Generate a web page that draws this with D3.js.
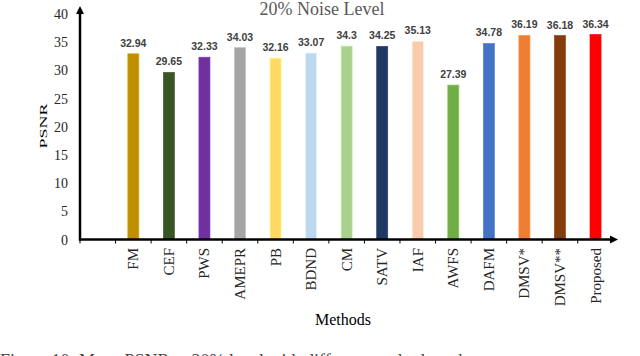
<!DOCTYPE html>
<html>
<head>
<meta charset="utf-8">
<script src="https://cdn.jsdelivr.net/npm/d3@7"></script>
<style>
  html, body { margin: 0; padding: 0; background: #fff; overflow: hidden; }
</style>
</head>
<body>
<div id="chart-area"></div>
<script>
const methods = ["FM", "CEF", "PWS", "AMEPR", "PB", "BDND", "CM", "SATV", "IAF", "AWFS", "DAFM", "DMSV*", "DMSV**", "Proposed"];
const psnr = [32.94, 29.65, 32.33, 34.03, 32.16, 33.07, 34.3, 34.25, 35.13, 27.39, 34.78, 36.19, 36.18, 36.34];
const barColors = ["#BF8F00", "#375623", "#7030A0", "#A5A5A5", "#FFD966", "#BDD7EE", "#A9D18E",
                   "#203864", "#F8CBAD", "#70AD47", "#4472C4", "#ED7D31", "#843C0C", "#FF0000"];
const yTicks = [0, 5, 10, 15, 20, 25, 30, 35, 40];

const SERIF = "'Liberation Serif', 'Times New Roman', serif";
const width = 640, height = 356;
const plotLeft = 80, plotRight = 613.3, plotBottom = 239.5, plotTop = 14;

const svg = d3.select("#chart-area").append("svg")
    .attr("width", width)
    .attr("height", height);

// first band is left empty, like the original
const x = d3.scaleBand()
    .domain([""].concat(methods))
    .range([plotLeft, plotRight]);

const y = d3.scaleLinear()
    .domain([0, 40])
    .range([plotBottom, plotTop]);

const barW = 11;

// bars
svg.selectAll("rect.bar")
    .data(methods)
    .enter().append("rect")
    .attr("class", "bar")
    .attr("x", d => x(d) + x.bandwidth() / 2 - barW / 2)
    .attr("y", (d, i) => y(psnr[i]))
    .attr("width", barW)
    .attr("height", (d, i) => plotBottom - y(psnr[i]))
    .attr("fill", (d, i) => barColors[i])
    .attr("stroke", (d, i) => d3.color(barColors[i]).brighter(0.4))
    .attr("stroke-width", 0.7);

// value labels
svg.selectAll("text.val")
    .data(methods)
    .enter().append("text")
    .attr("class", "val")
    .attr("x", d => x(d) + x.bandwidth() / 2)
    .attr("y", (d, i) => y(psnr[i]) - 7)
    .attr("text-anchor", "middle")
    .attr("font-family", "'Liberation Sans', Arial, sans-serif")
    .attr("font-weight", "bold")
    .attr("font-size", "10.5px")
    .attr("fill", "#404040")
    .text((d, i) => psnr[i]);

// y tick labels
svg.selectAll("text.ytick")
    .data(yTicks)
    .enter().append("text")
    .attr("class", "ytick")
    .attr("x", 68)
    .attr("y", d => y(d) + 5)
    .attr("text-anchor", "end")
    .attr("font-family", SERIF)
    .attr("font-size", "14px")
    .attr("fill", "#262626")
    .text(d => d);

// x ticks at band starts
svg.selectAll("line.xtick")
    .data(x.domain())
    .enter().append("line")
    .attr("class", "xtick")
    .attr("x1", d => x(d))
    .attr("x2", d => x(d))
    .attr("y1", plotBottom)
    .attr("y2", plotBottom + 4)
    .attr("stroke", "#000")
    .attr("stroke-width", 1);

// axes with arrows
svg.append("line")
    .attr("x1", plotLeft).attr("x2", plotLeft)
    .attr("y1", plotBottom + 1).attr("y2", 12)
    .attr("stroke", "#000").attr("stroke-width", 2.5);
svg.append("path")
    .attr("d", `M${plotLeft},6 L${plotLeft - 4},14 L${plotLeft + 4},14 Z`)
    .attr("fill", "#000");

svg.append("line")
    .attr("x1", plotLeft - 1).attr("x2", 611)
    .attr("y1", plotBottom).attr("y2", plotBottom)
    .attr("stroke", "#000").attr("stroke-width", 2.5);
svg.append("path")
    .attr("d", `M618,${plotBottom} L610,${plotBottom - 4} L610,${plotBottom + 4} Z`)
    .attr("fill", "#000");

// x category labels
svg.selectAll("text.xlab")
    .data(methods)
    .enter().append("text")
    .attr("class", "xlab")
    .attr("transform", d => `translate(${x(d) + x.bandwidth() / 2 + 5},248) rotate(-90)`)
    .attr("text-anchor", "end")
    .attr("font-family", SERIF)
    .attr("font-size", "15px")
    .attr("fill", "#262626")
    .text(d => d);

// title
svg.append("text")
    .attr("x", 322)
    .attr("y", 15)
    .attr("text-anchor", "middle")
    .attr("font-family", SERIF)
    .attr("font-size", "18px")
    .attr("fill", "#595959")
    .text("20% Noise Level");

// axis titles
svg.append("text")
    .attr("transform", "translate(47,126) rotate(-90)")
    .attr("text-anchor", "middle")
    .attr("font-family", SERIF)
    .attr("font-size", "10px")
    .attr("textLength", 45)
    .attr("lengthAdjust", "spacingAndGlyphs")
    .attr("fill", "#000")
    .text("PSNR");

svg.append("text")
    .attr("x", 343)
    .attr("y", 325)
    .attr("text-anchor", "middle")
    .attr("font-family", SERIF)
    .attr("font-size", "16px")
    .attr("fill", "#000")
    .text("Methods");

// caption, cut off at the bottom edge as in the original
svg.append("text")
    .attr("x", 0)
    .attr("y", 367)
    .attr("font-family", SERIF)
    .attr("font-size", "18px")
    .attr("fill", "#444")
    .text("Figure 10: Mean PSNR at 20% level with different methods and");
</script>
</body>
</html>
